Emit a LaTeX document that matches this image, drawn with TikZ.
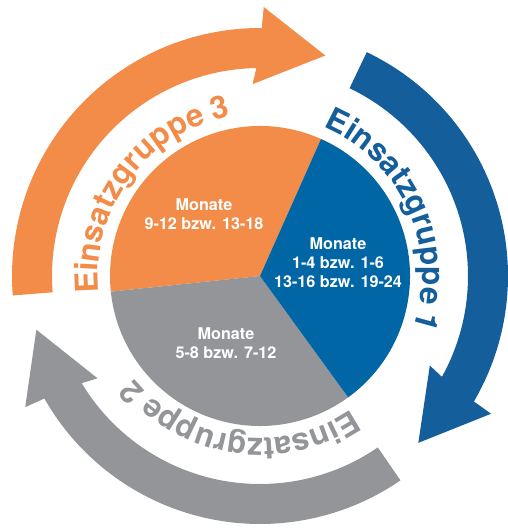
\documentclass[tikz,border=0pt]{standalone}
\usepackage{fontspec}
\newfontfamily\heros{TeX Gyre Heros}
\newfontfamily\herostight{TeX Gyre Heros}[LetterSpace=-6]
\usetikzlibrary{decorations.text}
\definecolor{orangeC}{HTML}{F28C48}
\definecolor{bluePie}{HTML}{0066A6}
\definecolor{blueArr}{HTML}{145E9C}
\definecolor{grayC}{HTML}{939598}
\tikzset{
  pietext/.style={text=white, align=center, font=\heros\bfseries\fontsize{16.2}{19}\selectfont, inner sep=0pt},
}
\newcommand{\ringlabel}[4]{% start angle, colour, text, name
  \path[decorate, decoration={text along path, text color=#2,
      text={|\herostight\bfseries\fontsize{31.5}{31.5}\selectfont|#3}}]
    (#1:162pt) arc[start angle=#1, end angle=#1-140, radius=162pt];
}
\begin{document}
\begin{tikzpicture}
\useasboundingbox (-260pt,-253pt) rectangle (247pt,276pt);
% pie
\fill[orangeC] (0,0) -- (66:150pt) arc[start angle=66, end angle=186, radius=150pt] -- cycle;
\fill[grayC] (0,0) -- (186:150pt) arc[start angle=186, end angle=306, radius=150pt] -- cycle;
\fill[bluePie] (0,0) -- (306:150pt) arc[start angle=306, end angle=426, radius=150pt] -- cycle;
% arrows
\foreach \r/\c in {0/orangeC, -120/blueArr, 120/grayC}{
  \fill[\c] (184.5+\r:208pt) -- (184.5+\r:248pt)
     arc[start angle=184.5+\r, end angle=89.6+\r, radius=248pt]
     -- (89.2+\r:269pt) -- (73.5+\r:230pt) -- (92.2+\r:192pt) -- (91+\r:208pt)
     arc[start angle=91+\r, end angle=184.5+\r, radius=208pt] -- cycle;
}
% ring labels
\ringlabel{186}{orangeC}{Einsatzgruppe 3}{l3}
\ringlabel{67}{blueArr}{Einsatzgruppe 1}{l1}
\ringlabel{-55.5}{grayC}{Einsatzgruppe 2}{l2}
% pie texts
\node[pietext] (t3) at (-56pt,62pt) {Monate\\9-12 bzw. 13-18};
\node[pietext] (t1) at (78pt,13pt) {Monate\\1-4 bzw. 1-6\\13-16 bzw. 19-24};
\node[pietext] (t2) at (-34pt,-67.5pt) {Monate\\5-8 bzw. 7-12};
\end{tikzpicture}
\end{document}
